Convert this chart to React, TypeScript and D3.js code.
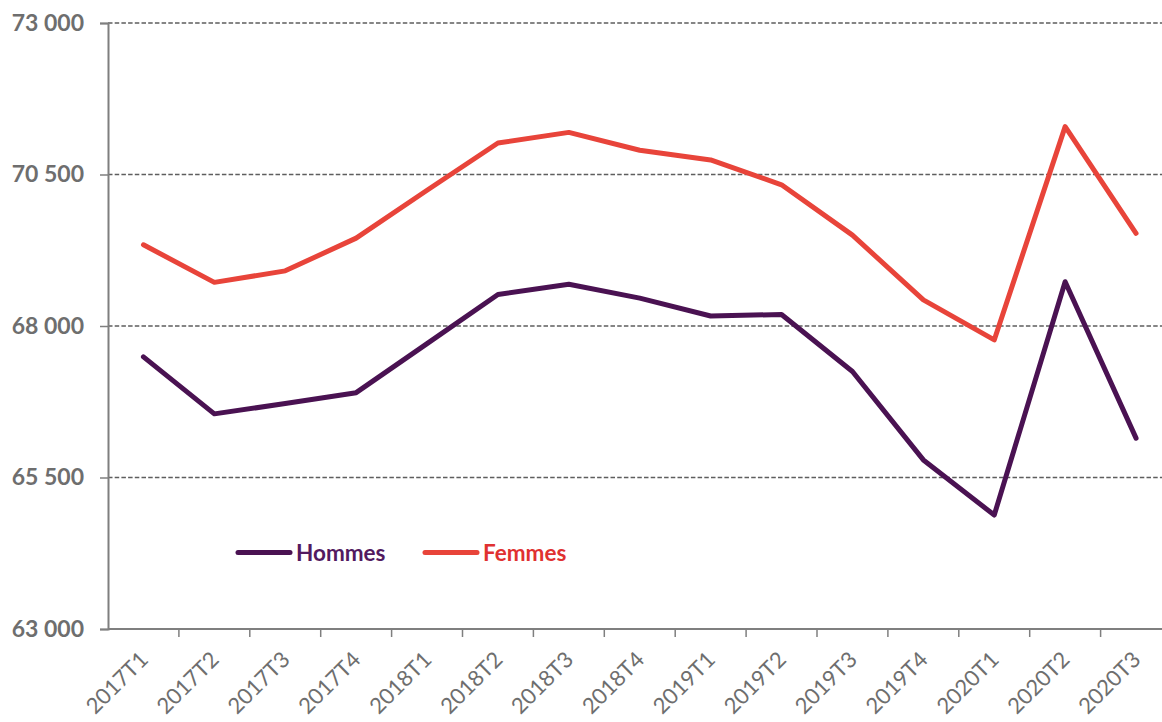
import React, { useEffect, useRef } from 'react'
import * as d3 from 'd3'

const quarters = [
  '2017T1', '2017T2', '2017T3', '2017T4',
  '2018T1', '2018T2', '2018T3', '2018T4',
  '2019T1', '2019T2', '2019T3', '2019T4',
  '2020T1', '2020T2', '2020T3'
]
const hommes = [67490, 66550, 66720, 66900, 67710, 68520, 68690, 68460, 68165, 68190, 67250, 65790, 64880, 68730, 66150]
const femmes = [69340, 68720, 68910, 69450, 70240, 71020, 71195, 70900, 70740, 70330, 69500, 68430, 67770, 71290, 69530]
const yTicks = [63000, 65500, 68000, 70500, 73000]

const width = 1162
const height = 722
const margin = { top: 23, left: 108, bottom: 93 }
const bandW = 70.9

const fmt = (v: number) => d3.format(',')(v).replace(/,/g, ' ')

export default function App () {
  const svgRef = useRef<SVGSVGElement>(null)

  useEffect(() => {
    const svg = d3.select(svgRef.current)
    svg.selectAll('*').remove()

    const x = d3.scaleBand<string>()
      .domain(quarters)
      .range([margin.left, margin.left + bandW * quarters.length])
    const y = d3.scaleLinear()
      .domain([63000, 73000])
      .range([height - margin.bottom, margin.top])

    const gray = '#7f7f7f'

    // grid
    svg.append('g')
      .selectAll('line')
      .data(yTicks.filter(t => t !== 63000))
      .join('line')
      .attr('x1', margin.left)
      .attr('x2', width)
      .attr('y1', d => y(d))
      .attr('y2', d => y(d))
      .attr('stroke', '#5e5e5e')
      .attr('stroke-width', 1.5)
      .attr('stroke-dasharray', '4.5,2.2')

    // y axis
    const yAxis = svg.append('g')
      .attr('transform', `translate(${margin.left},0)`)
      .call(d3.axisLeft(y).tickValues(yTicks).tickSize(8).tickPadding(16).tickFormat(d => fmt(d as number)))
    yAxis.select('.domain').attr('stroke', gray).attr('stroke-width', 2)
    yAxis.selectAll('.tick line').attr('stroke', gray).attr('stroke-width', 1.5)
    yAxis.selectAll('.tick text')
      .attr('fill', '#6e6e6e')
      .attr('font-family', 'Lato, sans-serif')
      .attr('font-weight', 'bold')
      .attr('font-size', 23)

    // x axis
    const xAxis = svg.append('g')
      .attr('transform', `translate(0,${height - margin.bottom})`)
    xAxis.append('line')
      .attr('x1', margin.left)
      .attr('x2', width)
      .attr('stroke', gray)
      .attr('stroke-width', 2)
    xAxis.selectAll('line.tk')
      .data(quarters)
      .join('line')
      .attr('class', 'tk')
      .attr('x1', d => (x(d) as number) + x.bandwidth())
      .attr('x2', d => (x(d) as number) + x.bandwidth())
      .attr('y1', 0)
      .attr('y2', 8)
      .attr('stroke', gray)
      .attr('stroke-width', 1.5)
    xAxis.selectAll('text')
      .data(quarters)
      .join('text')
      .attr('transform', d => `translate(${(x(d) as number) + x.bandwidth() / 2 + 6},${32}) rotate(-45)`)
      .attr('text-anchor', 'end')
      .attr('fill', '#6e6e6e')
      .attr('font-family', 'Lato, sans-serif')
      .attr('font-size', 22)
      .text(d => d)

    const line = d3.line<number>()
      .x((d, i) => (x(quarters[i]) as number) + x.bandwidth() / 2)
      .y(d => y(d))

    const series = [
      { name: 'Hommes', values: hommes, color: '#4a1252', text: '#521a60', lx: 238 },
      { name: 'Femmes', values: femmes, color: '#e8443a', text: '#e03131', lx: 425 }
    ]

    series.forEach(s => {
      svg.append('path')
        .datum(s.values)
        .attr('d', line)
        .attr('fill', 'none')
        .attr('stroke', s.color)
        .attr('stroke-width', 5)
        .attr('stroke-linejoin', 'round')
        .attr('stroke-linecap', 'round')

      svg.append('line')
        .attr('x1', s.lx)
        .attr('x2', s.lx + 52)
        .attr('y1', 552.5)
        .attr('y2', 552.5)
        .attr('stroke', s.color)
        .attr('stroke-width', 5)
        .attr('stroke-linecap', 'round')
      svg.append('text')
        .attr('x', s.lx + 58)
        .attr('y', 561)
        .attr('fill', s.text)
        .attr('font-family', 'Lato, sans-serif')
        .attr('font-weight', 'bold')
        .attr('font-size', 22.5)
        .text(s.name)
    })
  }, [])

  return (
    <div style={{ position: 'absolute', left: 0, top: 0 }}>
      <svg ref={svgRef} width={width} height={height} viewBox={`0 0 ${width} ${height}`} style={{ display: 'block', background: '#fff' }} />
    </div>
  )
}
